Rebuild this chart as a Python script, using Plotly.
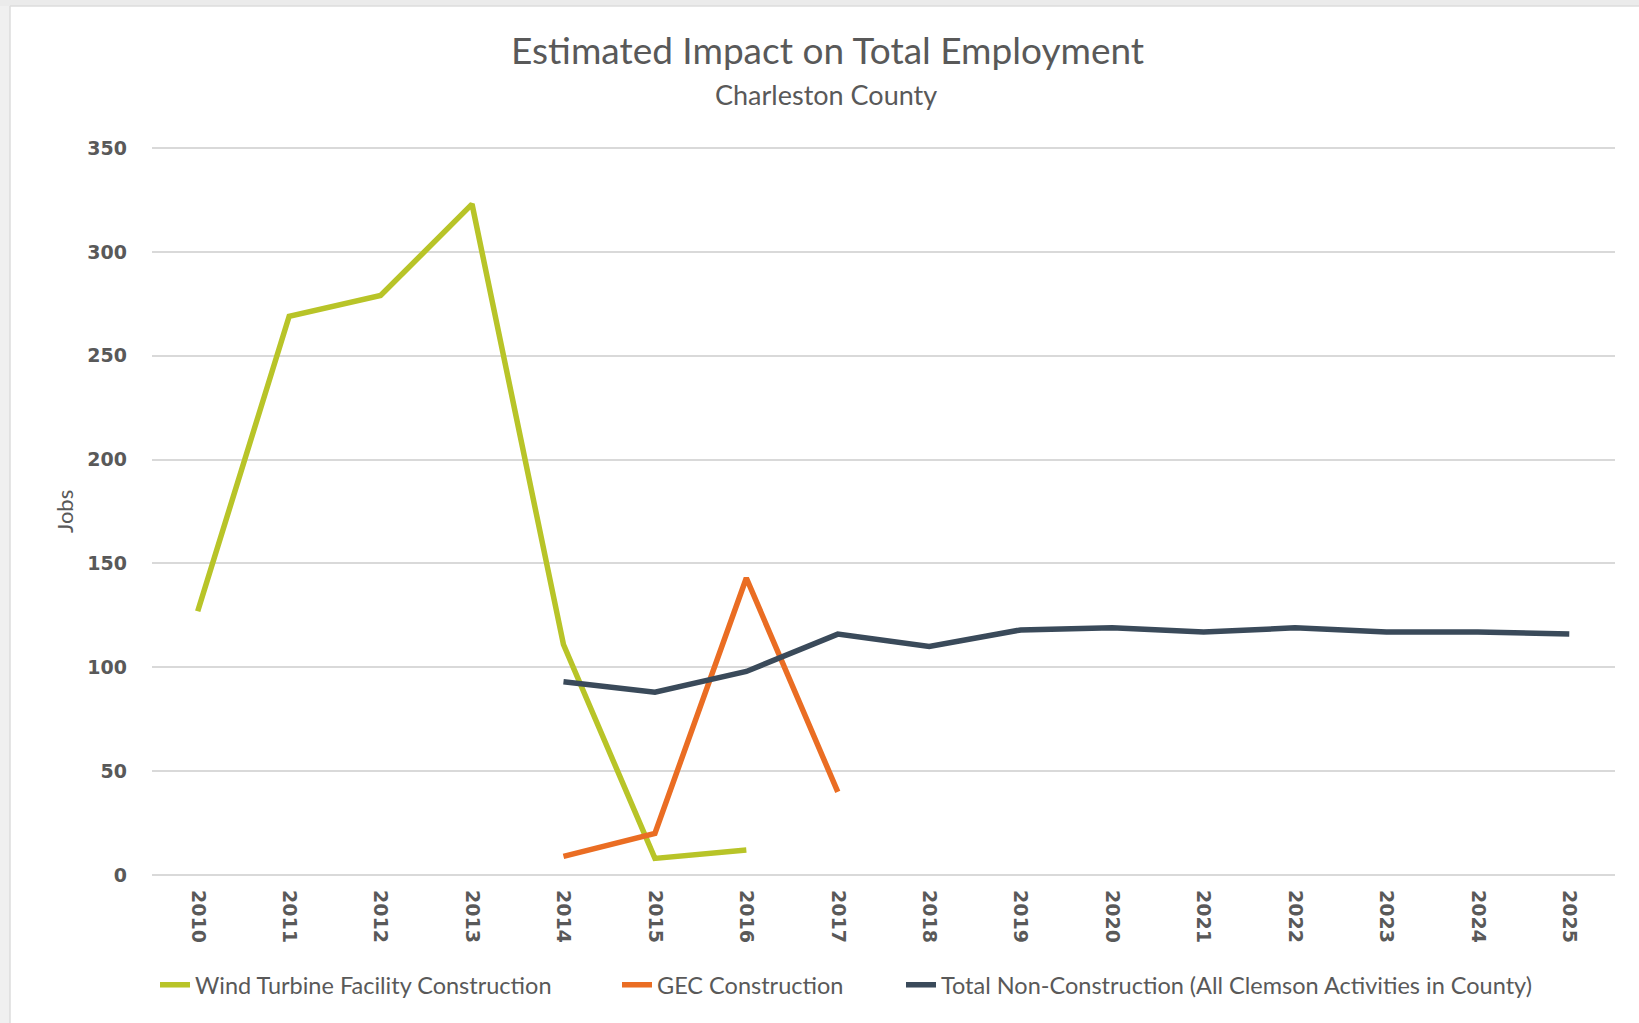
import plotly.graph_objects as go

years = [str(y) for y in range(2010, 2026)]
wind_years = ["2010", "2011", "2012", "2013", "2014", "2015", "2016"]
wind_vals = [127, 269, 279, 323, 111, 8, 12]
gec_years = ["2014", "2015", "2016", "2017"]
gec_vals = [9, 20, 143, 40]
nonc_years = ["2014", "2015", "2016", "2017", "2018", "2019", "2020", "2021", "2022", "2023", "2024", "2025"]
nonc_vals = [93, 88, 98, 116, 110, 118, 119, 117, 119, 117, 117, 116]
y_ticks = [0, 50, 100, 150, 200, 250, 300, 350]

series_names = ["Wind Turbine Facility Construction", "GEC Construction",
                "Total Non-Construction (All Clemson Activities in County)"]
colors = ["#B8C428", "#EA6D23", "#3A4A5A"]

W, H = 1639, 1023
L, R, T, B = 152, 24, 146, 148
pw, ph = W - L - R, H - T - B

def px(x):
    return (x - L) / pw

def py(y):
    return (H - B - y) / ph

txt_font = "Lato, 'Open Sans', sans-serif"
txt_col = "#595959"

legend_ids = ["legend", "legend2", "legend3"]
legend_text_x = [199, 661, 945]

fig = go.Figure()
for xs, ys, name, c, lg in [(wind_years, wind_vals, series_names[0], colors[0], legend_ids[0]),
                            (gec_years, gec_vals, series_names[1], colors[1], legend_ids[1]),
                            (nonc_years, nonc_vals, series_names[2], colors[2], legend_ids[2])]:
    fig.add_trace(go.Scatter(x=xs, y=ys, mode="lines", name=name, legend=lg,
                             line=dict(color=c, width=5.5)))

legend_common = dict(orientation="h", yanchor="middle", y=py(985), xanchor="left",
                     font=dict(family=txt_font, size=23.5, color=txt_col),
                     bgcolor="rgba(0,0,0,0)", itemwidth=30)
layout_legends = {}
for lg, tx in zip(legend_ids, legend_text_x):
    layout_legends[lg] = dict(legend_common, x=px(tx - 44))

fig.update_layout(
    width=W, height=H,
    margin=dict(l=L, r=R, t=T, b=B),
    paper_bgcolor="white", plot_bgcolor="white",
    showlegend=True,
    annotations=[
        dict(text="Estimated Impact on Total Employment", xref="paper", yref="paper",
             x=px(827), y=py(50), xanchor="center", yanchor="middle", showarrow=False,
             font=dict(family=txt_font, size=37, color=txt_col)),
        dict(text="Charleston County", xref="paper", yref="paper",
             x=px(826), y=py(95), xanchor="center", yanchor="middle", showarrow=False,
             font=dict(family=txt_font, size=27, color=txt_col)),
        dict(text="Jobs", xref="paper", yref="paper", textangle=-90,
             x=px(65), y=py(512), xanchor="center", yanchor="middle", showarrow=False,
             font=dict(family=txt_font, size=22, color=txt_col)),
    ],
    shapes=[
        dict(type="rect", xref="paper", yref="paper", x0=px(0), x1=px(10), y0=py(H), y1=py(0),
             fillcolor="#F0F0F0", line=dict(width=0), layer="below"),
        dict(type="rect", xref="paper", yref="paper", x0=px(0), x1=px(W), y0=py(6), y1=py(0),
             fillcolor="#EBEBEB", line=dict(width=0), layer="below"),
        dict(type="line", xref="paper", yref="paper", x0=px(10), x1=px(10), y0=py(H), y1=py(6),
             line=dict(color="#DCDCDC", width=1.5), layer="below"),
        dict(type="line", xref="paper", yref="paper", x0=px(10), x1=px(W), y0=py(6), y1=py(6),
             line=dict(color="#DCDCDC", width=1.5), layer="below"),
    ],
    **layout_legends,
)

fig.update_xaxes(type="category", categoryorder="array", categoryarray=years,
                 tickvals=years, range=[-0.5, 15.5], tickangle=90,
                 showgrid=False, showline=False, zeroline=False, ticks="",
                 ticklabelstandoff=14,
                 tickfont=dict(family="DejaVu Sans", size=19, color=txt_col, weight="bold"))
fig.update_yaxes(range=[0, 351], tickvals=y_ticks, showgrid=True, gridcolor="#D9D9D9",
                 gridwidth=1.5, zeroline=True, zerolinecolor="#D9D9D9", zerolinewidth=1.5,
                 showline=False, ticks="", ticklabelstandoff=24,
                 tickfont=dict(family="DejaVu Sans", size=19, color=txt_col, weight="bold"))

fig.write_html("out.html", config={"displayModeBar": False},
               post_script="document.body.style.margin='0';document.body.style.overflow='hidden';")
